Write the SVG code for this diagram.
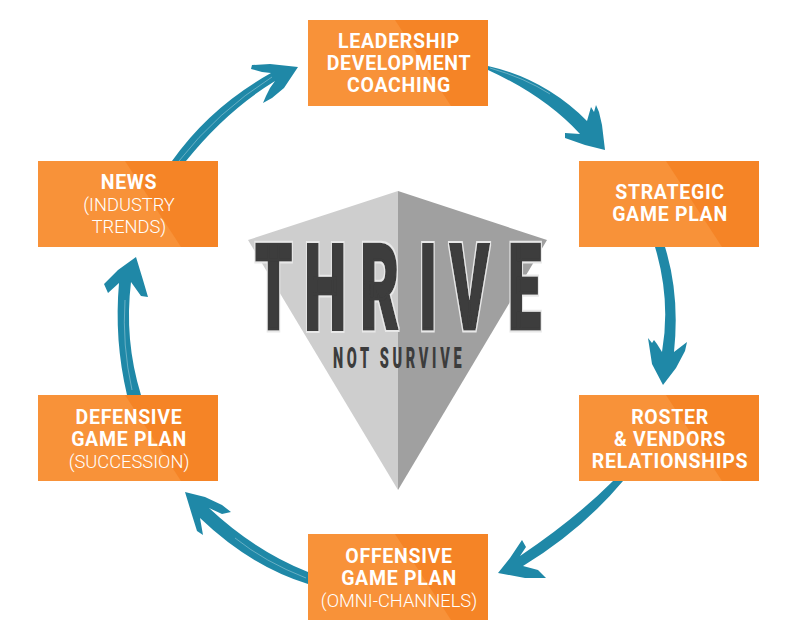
<svg xmlns="http://www.w3.org/2000/svg" width="800" height="640" viewBox="0 0 800 640">
<style>
.lbl{font-family:Roboto,"Liberation Sans",sans-serif;font-size:19.5px;fill:#fff;text-anchor:middle}
.b{font-weight:700;letter-spacing:.7px}
.r{font-weight:300;font-size:18.3px}
.arrow{fill:#1f88a7}
.streak{fill:none;stroke:#fff;stroke-width:.6;stroke-opacity:.55}
.thrive{font-family:Roboto,"Liberation Sans",sans-serif;font-weight:900;font-size:118px;fill:#3c3c3c;stroke:#3c3c3c;stroke-width:3px}
.sub{font-family:Roboto,"Liberation Sans",sans-serif;font-weight:900;font-size:29px;fill:#3c3c3c;letter-spacing:7.4px}
</style>
<defs>
<g id="box"><rect width="180" height="86" fill="#f58426"/><polygon points="0,0 87,0 143,86 0,86" fill="#f89239"/></g>
<filter id="halo" x="-5%" y="-5%" width="110%" height="110%">
<feMorphology in="SourceAlpha" operator="dilate" radius="1.5" result="d"/>
<feFlood flood-color="#e8e8e8"/><feComposite in2="d" operator="in" result="o"/>
<feMerge><feMergeNode in="o"/><feMergeNode in="SourceGraphic"/></feMerge>
</filter>
</defs>
<g id="connectors">
<path class="arrow" d="M488,66 Q545,79 587,121 L591,107 L594,112 L596,105 L599,112 L602,125 L605,150 L585,145 L565,138 L565,133 L580,134 Q545,96 488,70 Z"/>
<path class="streak" d="M490,68 Q525,78 550,94"/>
<path class="arrow" d="M655,247 L665,247 Q680,295 674,352 L687,342 L685,351 L676,368 L663,385 L652,364 L648,338 L652,343 L654,340 L657,344 L662,352 Q671,300 655,247 Z"/>
<path class="arrow" d="M613,481 L623,481 Q582,530 523,566 L538,570 L546,578 L525,578 L498,573 L510,558 L522,540 L526,547 L520,556 Q575,519 613,481 Z"/>
<path class="arrow" d="M308,572 L308,584 Q250,566 200,518 L203,535 L197,531 L192,515 L185,492 L205,497 L222,505 L231,512 L222,514 L209,508 Q255,551 308,572 Z"/>
<path class="streak" d="M306,578 Q265,562 235,538"/>
<path class="arrow" d="M127,395 Q114,340 119,283 L108,293 L104,284 L118,270 L136,257 L143,280 L148,297 L141,296 L131,282 Q124,340 141,395 Z"/>
<path class="streak" d="M125,300 Q122,345 132,390"/>
<path class="arrow" d="M172,161 Q210,107 271,73 L262,72 L251,69 L252,65 L270,64 L298,67 L284,88 L272,98 L263,103 L266,96 L270,88 L275,81 Q226,111 186,161 Z"/>
<path class="streak" d="M179,161 Q217,112 272,77"/>
</g>
<g id="center">
<polygon points="398,191 248,240 398,490" fill="#cecece"/>
<polygon points="398,191 547,240 398,490" fill="#a0a0a0"/>
<text class="thrive" filter="url(#halo)" transform="translate(0,329) scale(.5,1)" x="510 609 721 838 900 1016">THRIVE</text>
<text class="sub" transform="translate(0,368) scale(.5,1)" x="666">NOT SURVIVE</text>
</g>
<g id="node-leadership"><use href="#box" x="308" y="20"/>
<text class="lbl b" x="399" y="48">LEADERSHIP</text><text class="lbl b" x="399" y="70">DEVELOPMENT</text><text class="lbl b" x="399" y="92">COACHING</text></g>
<g id="node-strategic"><use href="#box" x="579" y="161"/>
<text class="lbl b" x="670" y="199">STRATEGIC</text><text class="lbl b" x="670" y="221">GAME PLAN</text></g>
<g id="node-roster"><use href="#box" x="579" y="395"/>
<text class="lbl b" x="670" y="423.5">ROSTER</text><text class="lbl b" x="670" y="445.5">&amp; VENDORS</text><text class="lbl b" x="670" y="467.5">RELATIONSHIPS</text></g>
<g id="node-offensive"><use href="#box" x="308" y="534"/>
<text class="lbl b" x="399" y="562.5">OFFENSIVE</text><text class="lbl b" x="399" y="584.5">GAME PLAN</text><text class="lbl r" x="399" y="607">(OMNI-CHANNELS)</text></g>
<g id="node-defensive"><use href="#box" x="38" y="395"/>
<text class="lbl b" x="129" y="423.5">DEFENSIVE</text><text class="lbl b" x="129" y="445.5">GAME PLAN</text><text class="lbl r" x="129" y="468">(SUCCESSION)</text></g>
<g id="node-news"><use href="#box" x="38" y="161"/>
<text class="lbl b" x="129" y="188.5">NEWS</text><text class="lbl r" x="129" y="211">(INDUSTRY</text><text class="lbl r" x="129" y="233">TRENDS)</text></g>
</svg>
